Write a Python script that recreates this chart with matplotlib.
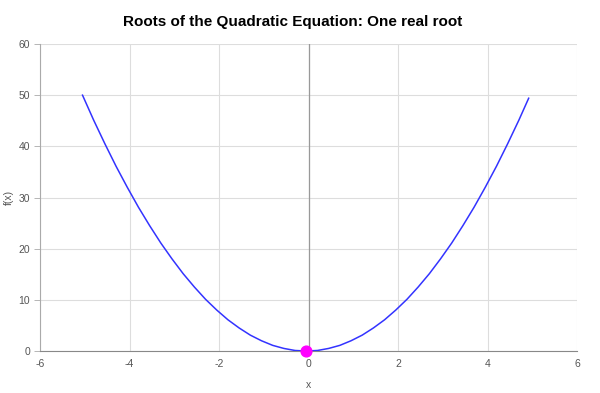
import matplotlib
matplotlib.use('Agg')
import matplotlib.pyplot as plt

plt.rcParams['font.family'] = ['Liberation Sans', 'DejaVu Sans']
plt.rcParams['axes.unicode_minus'] = False

# curve points
x_vals = [-5.05, -4.8, -4.55, -4.3, -4.05, -3.8, -3.55, -3.3, -3.05, -2.8,
          -2.55, -2.3, -2.05, -1.8, -1.55, -1.3, -1.05, -0.8, -0.55, -0.3,
          -0.05, 0.2, 0.45, 0.7, 0.95, 1.2, 1.45, 1.7, 1.95, 2.2,
          2.45, 2.7, 2.95, 3.2, 3.45, 3.7, 3.95, 4.2, 4.45, 4.7, 4.92]
y_vals = [50.0, 45.1, 40.5, 36.1, 32.0, 28.1, 24.5, 21.1, 18.0, 15.1,
          12.5, 10.1, 8.0, 6.1, 4.5, 3.1, 2.0, 1.1, 0.5, 0.1,
          0.0, 0.1, 0.5, 1.1, 2.0, 3.1, 4.5, 6.1, 8.0, 10.1,
          12.5, 15.1, 18.0, 21.1, 24.5, 28.1, 32.0, 36.1, 40.5, 45.1, 49.4]
root_x = [-0.06]
root_y = [0.0]
x_ticks = [-6, -4, -2, 0, 2, 4, 6]
y_ticks = [0, 10, 20, 30, 40, 50, 60]

fig = plt.figure(figsize=(6, 3.93), dpi=100)
ax = fig.add_axes([40 / 600, 42 / 393, 537 / 600, 307 / 393])

ax.plot(x_vals, y_vals, color='#3333ff', linewidth=1.1, zorder=3)
ax.scatter(root_x, root_y, s=60, color='#ff00ff', zorder=5, clip_on=False)

ax.set_xlim(-6, 6)
ax.set_ylim(0, 60)
ax.set_xticks(x_ticks)
ax.set_yticks(y_ticks)
ax.grid(True, color='#dddddd', linewidth=0.8)
ax.axvline(0, color='#999999', linewidth=0.9, zorder=2)

for s in ['top', 'right']:
    ax.spines[s].set_visible(False)
ax.spines['left'].set_color('#aaaaaa')
ax.spines['bottom'].set_color('#888888')
ax.tick_params(axis='both', labelsize=7.5, colors='#555555', length=4, width=0.6)
ax.tick_params(axis='x', length=0, pad=6)
ax.tick_params(axis='y', color='#aaaaaa', pad=3)

ax.set_xlabel('x', fontsize=7.5, color='#555555', labelpad=8)
ax.set_ylabel('f(x)', fontsize=7.5, color='#555555')
ax.yaxis.set_label_coords(-26 / 537, 0.5)
fig.text(293 / 600, 1 - 22 / 393, 'Roots of the Quadratic Equation: One real root',
         ha='center', va='center', fontsize=11, fontweight='bold')

fig.savefig('out.png', dpi=100)
